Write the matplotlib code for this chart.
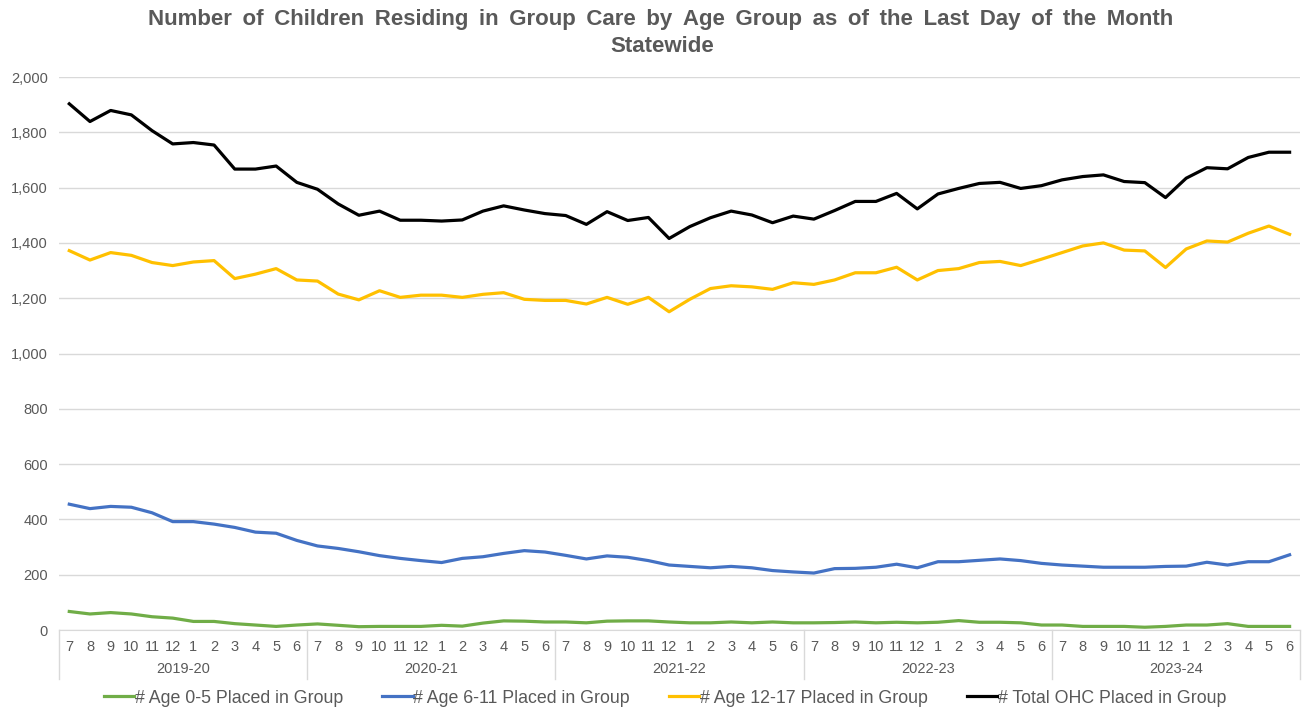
import numpy as np
import matplotlib.pyplot as plt
from matplotlib.ticker import FuncFormatter
import matplotlib.transforms as mtransforms

plt.rcParams['font.family'] = ['Liberation Sans', 'DejaVu Sans']

# Data: fiscal years July-June, 2019-20 through 2023-24
fiscal_years = ['2019-20', '2020-21', '2021-22', '2022-23', '2023-24']
months = [7, 8, 9, 10, 11, 12, 1, 2, 3, 4, 5, 6]

age_0_5 = [67, 58, 63, 58, 48, 43, 31, 31, 23, 18, 13, 18,
           22, 17, 12, 13, 13, 13, 17, 14, 25, 33, 32, 29,
           29, 26, 32, 33, 33, 29, 26, 26, 29, 26, 29, 26,
           26, 27, 29, 26, 28, 26, 28, 34, 28, 28, 26, 18,
           18, 13, 13, 13, 10, 13, 18, 18, 23, 13, 13, 13]

age_6_11 = [455, 439, 447, 444, 424, 392, 392, 383, 371, 354, 350, 324,
            304, 295, 283, 269, 259, 251, 244, 259, 265, 277, 287, 282,
            270, 257, 268, 263, 251, 235, 230, 225, 230, 225, 215, 210,
            206, 222, 223, 227, 238, 225, 247, 247, 252, 257, 251, 241,
            235, 231, 227, 227, 227, 230, 231, 245, 235, 247, 247, 272]

age_12_17 = [1372, 1338, 1365, 1355, 1329, 1318, 1331, 1336, 1271, 1287, 1307, 1266,
             1262, 1215, 1194, 1227, 1203, 1211, 1211, 1203, 1214, 1220, 1196, 1192,
             1192, 1179, 1203, 1178, 1203, 1151, 1196, 1235, 1245, 1241, 1232, 1256,
             1250, 1266, 1292, 1292, 1312, 1266, 1300, 1307, 1329, 1333, 1318, 1341,
             1365, 1389, 1400, 1374, 1371, 1311, 1378, 1407, 1403, 1435, 1461, 1431]

total = [1903, 1839, 1879, 1863, 1806, 1758, 1763, 1754, 1667, 1667, 1678, 1619,
         1594, 1541, 1500, 1515, 1482, 1482, 1479, 1483, 1515, 1534, 1519, 1506,
         1499, 1467, 1513, 1481, 1492, 1416, 1459, 1491, 1515, 1501, 1473, 1497,
         1486, 1517, 1550, 1550, 1579, 1523, 1577, 1597, 1615, 1619, 1597, 1607,
         1628, 1640, 1646, 1622, 1618, 1564, 1634, 1672, 1668, 1709, 1728, 1728]

series = [
    ('# Age 0-5 Placed in Group', age_0_5, '#70AD47'),
    ('# Age 6-11 Placed in Group', age_6_11, '#4472C4'),
    ('# Age 12-17 Placed in Group', age_12_17, '#FFC000'),
    ('# Total OHC Placed in Group', total, '#000000'),
]

text_col = '#595959'
grid_col = '#D9D9D9'

fig = plt.figure(figsize=(13.07, 7.13), dpi=100)
ax = fig.add_axes([0.0451, 0.1164, 0.9495, 0.7756])

x = np.arange(len(total))
for label, vals, col in series:
    ax.plot(x, vals, color=col, lw=2.3, label=label, solid_joinstyle='round')

ax.set_xlim(-0.5, len(total) - 0.5)
ax.set_ylim(0, 2000)
ax.set_yticks(np.arange(0, 2001, 200))
ax.yaxis.set_major_formatter(FuncFormatter(lambda v, p: f'{int(v):,}'))
ax.tick_params(axis='y', length=0, labelsize=10.5, colors=text_col, pad=8)
ax.grid(axis='y', color=grid_col, lw=1)
ax.set_axisbelow(True)
for s in ['top', 'right', 'left']:
    ax.spines[s].set_visible(False)
ax.spines['bottom'].set_color(grid_col)
ax.set_xticks([])

# multi-level category axis
trans = mtransforms.blended_transform_factory(ax.transData, ax.transAxes)
for i in x:
    ax.text(i, -0.03, str(months[i % 12]), transform=trans, ha='center', va='center',
            fontsize=10.5, color=text_col)
for k, fy in enumerate(fiscal_years):
    ax.text(k * 12 + 5.5, -0.071, fy, transform=trans, ha='center', va='center',
            fontsize=10.5, color=text_col)
for k in range(len(fiscal_years) + 1):
    ax.plot([k * 12 - 0.5] * 2, [0, -0.088], transform=trans, color=grid_col,
            lw=1, clip_on=False)

title = 'Number of Children Residing in Group Care by Age Group as of the Last Day of the Month'
title = title.replace(' ', ' \u2009')  # slightly wider word spacing like the original
fig.text(0.5055, 0.973, title, ha='center', va='center', fontsize=16,
         fontweight='bold', color=text_col)
fig.text(0.507, 0.935, 'Statewide', ha='center', va='center', fontsize=16,
         fontweight='bold', color=text_col)

fig.legend(loc='center', bbox_to_anchor=(0.509, 0.021), ncol=4, frameon=False,
           fontsize=12.8, handlelength=1.7, handletextpad=0.05, columnspacing=2.2,
           labelcolor=text_col)

fig.savefig('out.png', dpi=100)
